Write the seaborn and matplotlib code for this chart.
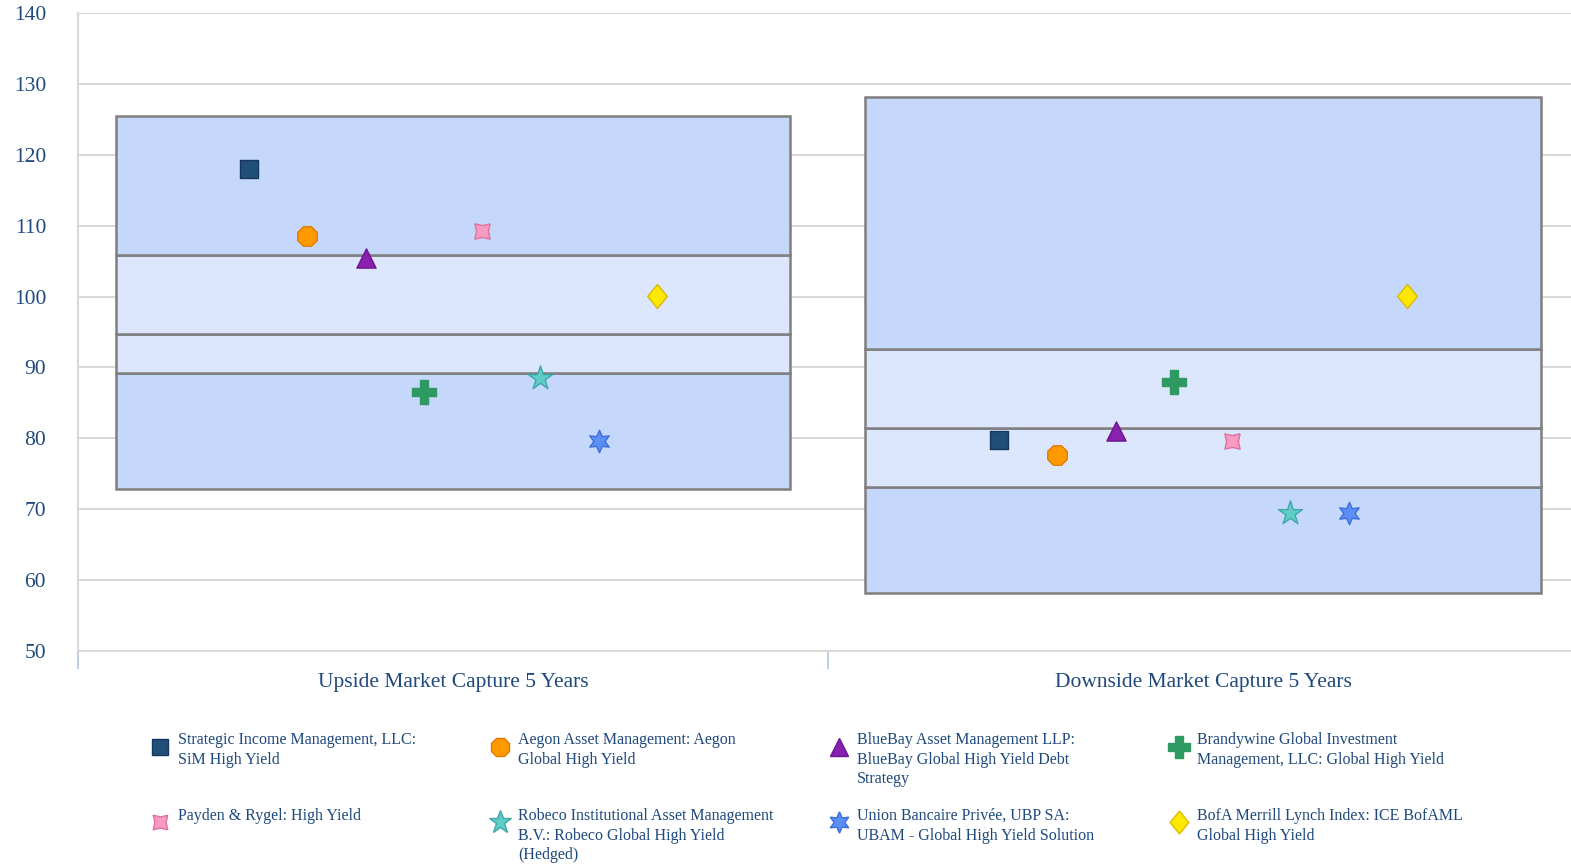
import numpy as np
import matplotlib.pyplot as plt
import seaborn as sns
from matplotlib.lines import Line2D

# 카테고리 & 분위수 밴드 (5th / 25th / median / 75th / 95th)
categories = ["Upside Market Capture 5 Years", "Downside Market Capture 5 Years"]
p05 = [72.9, 58.2]
p25 = [89.2, 73.2]
p50 = [94.7, 81.5]
p75 = [105.9, 92.6]
p95 = [125.5, 128.1]

# 매니저별 값
managers = [
    "Strategic Income Management, LLC:\nSiM High Yield",
    "Aegon Asset Management: Aegon\nGlobal High Yield",
    "BlueBay Asset Management LLP:\nBlueBay Global High Yield Debt\nStrategy",
    "Brandywine Global Investment\nManagement, LLC: Global High Yield",
    "Payden & Rygel: High Yield",
    "Robeco Institutional Asset Management\nB.V.: Robeco Global High Yield\n(Hedged)",
    "Union Bancaire Privée, UBP SA:\nUBAM - Global High Yield Solution",
    "BofA Merrill Lynch Index: ICE BofAML\nGlobal High Yield",
]
upside = [118.0, 108.6, 105.4, 86.6, 109.3, 88.5, 79.6, 100.1]
downside = [79.7, 77.6, 81.1, 88.0, 79.6, 69.5, 69.4, 100.1]

# 마커 스타일
star4 = [(1, 1), (0, 0.78), (-1, 1), (-0.78, 0), (-1, -1), (0, -0.78), (1, -1), (0.78, 0), (1, 1)]
diamond = [(0, 1), (0.82, 0), (0, -1), (-0.82, 0), (0, 1)]
styles = [
    dict(marker="s", s=150, fc="#1F4E79", ec="#17365D"),
    dict(marker="8", s=230, fc="#FF9900", ec="#E07B00"),
    dict(marker="^", s=190, fc="#8B1FB0", ec="#6A1590"),
    dict(marker="P", s=280, fc="#2E9A62", ec="#2E9A62"),
    dict(marker=star4, s=120, fc="#F79BC2", ec="#E0709C"),
    dict(marker="*", s=330, fc="#5FCCC8", ec="#3FA9A8"),
    dict(marker=(6, 1, 0), s=260, fc="#5B8FF5", ec="#3D6EDD"),
    dict(marker=diamond, s=300, fc="#FFE800", ec="#D9BC00"),
]

sns.set_theme(style="white")
plt.rcParams["font.family"] = ["Liberation Serif", "DejaVu Serif"]
txt_color = "#1F497D"

fig = plt.figure(figsize=(15.71, 8.65), dpi=100)
ax = fig.add_axes([78 / 1571, 1 - 651 / 865, 1500 / 1571, (651 - 13) / 865])

# 분위수 밴드 박스
x_cat = np.arange(len(categories))
edges = np.vstack([p05, p25, p50, p75, p95])
band_colors = ["#C5D8FB", "#DCE6FD", "#DCE6FD", "#C5D8FB"]
for k in range(4):
    ax.bar(x_cat, edges[k + 1] - edges[k], bottom=edges[k], width=0.9,
           color=band_colors[k], edgecolor="#7F7F7F", linewidth=1.8, zorder=2)

# 매니저 마커
n = len(managers)
step = 0.0777
for i, st in enumerate(styles):
    xs = x_cat + (i - (n - 1) / 2) * step
    sns.scatterplot(x=xs, y=[upside[i], downside[i]], marker=st["marker"], s=st["s"],
                    color=st["fc"], edgecolor=st["ec"], linewidth=1.0, ax=ax, zorder=4)

ax.set_xlim(-0.5, 1.5)
ax.set_ylim(50, 140)
ax.set_yticks(np.arange(50, 141, 10))
ax.yaxis.grid(True, color="#D9D9D9", linewidth=1.5, zorder=0)
ax.set_axisbelow(True)
for sp in ["top", "right"]:
    ax.spines[sp].set_visible(False)
ax.spines["left"].set_color("#D9D9D9")
ax.spines["left"].set_linewidth(1.5)
ax.spines["bottom"].set_color("#D9D9D9")
ax.spines["bottom"].set_linewidth(1.5)

ax.set_xticks(x_cat)
ax.set_xticklabels(categories)
ax.set_xticks([-0.5, 0.5], minor=True)
ax.tick_params(axis="x", which="major", length=0, pad=16, labelsize=15.5, labelcolor=txt_color)
ax.tick_params(axis="x", which="minor", length=13, width=1.3, color="#B8CCE4", bottom=True)
ax.tick_params(axis="y", length=0, pad=23, labelsize=15.5, labelcolor=txt_color)
for lab in ax.get_yticklabels():
    lab.set_verticalalignment("center_baseline")

# 범례 (수동 배치)
col_x = [160, 500, 839, 1179]
row_marker_y = [747, 822]
row_text_y = [732, 808]
for i, (name, st) in enumerate(zip(managers, styles)):
    c, r = i % 4, i // 4
    fig.add_artist(Line2D([col_x[c] / 1571], [1 - row_marker_y[r] / 865], transform=fig.transFigure,
                          marker=st["marker"], markersize=np.sqrt(st["s"]) * 0.95, linestyle="none",
                          markerfacecolor=st["fc"], markeredgecolor=st["ec"], markeredgewidth=1.0))
    fig.text((col_x[c] + 18) / 1571, 1 - row_text_y[r] / 865, name, ha="left", va="top",
             fontsize=11.5, color=txt_color, linespacing=1.3)

fig.savefig("out.png", dpi=100)
